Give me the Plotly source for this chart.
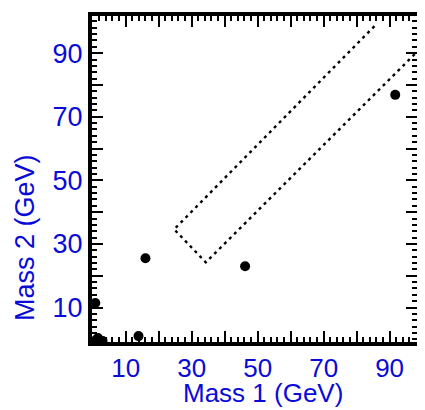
import plotly.graph_objects as go

# Data points (Mass 1, Mass 2) in GeV
mass1 = [16.0, 46.2, 91.7, 13.9, 0.8, 1.0, 2.2, 3.0, 1.6]
mass2 = [25.5, 23.0, 76.9, 1.0, 11.4, -0.2, -0.4, -0.5, 0.4]

# Dashed signal-region window (corners, GeV)
win_x = [85.4, 24.7, 34.3, 98.0]
win_y = [98.5, 34.6, 24.2, 90.1]

tick_vals = [10, 20, 30, 40, 50, 60, 70, 80, 90]
tick_text = ["10", "", "30", "", "50", "", "70", "", "90"]

BLUE = "#0a0ad8"
FONT = "Liberation Sans, Arial, sans-serif"

fig = go.Figure()
fig.add_trace(go.Scatter(x=win_x, y=win_y, mode="lines",
                         line=dict(color="black", width=2.4, dash="3px,4px"),
                         hoverinfo="skip", showlegend=False))
fig.add_trace(go.Scatter(x=mass1, y=mass2, mode="markers",
                         marker=dict(color="black", size=10),
                         showlegend=False))

axis_common = dict(
    showgrid=False, zeroline=False, showline=True, linecolor="black",
    linewidth=4, mirror="allticks", ticks="inside", ticklen=11, tickwidth=2,
    tickcolor="black", tickvals=tick_vals, ticktext=tick_text,
    minor=dict(dtick=2, ticklen=5, tickwidth=1.5, tickcolor="black", ticks="inside"),
)

fig.update_xaxes(range=[-0.2, 98.3], tickfont=dict(family=FONT, size=26, color=BLUE),
                 **axis_common)
fig.update_yaxes(range=[-0.85, 101.7], tickfont=dict(family=FONT, size=27, color=BLUE),
                 **axis_common)

fig.add_annotation(text="Mass 1 (GeV)", xref="paper", yref="paper", x=0.526, y=-0.208,
                   showarrow=False, xanchor="center", yanchor="bottom",
                   font=dict(family=FONT, size=26, color=BLUE))
fig.add_annotation(text="Mass 2 (GeV)", xref="paper", yref="paper", x=-0.204, y=0.321,
                   showarrow=False, xanchor="center", yanchor="middle", textangle=-90,
                   font=dict(family=FONT, size=27, color=BLUE))

fig.update_layout(width=417, height=402, margin=dict(l=84, r=4, t=7, b=68),
                  plot_bgcolor="white", paper_bgcolor="white")

fig.write_html("out.html")
